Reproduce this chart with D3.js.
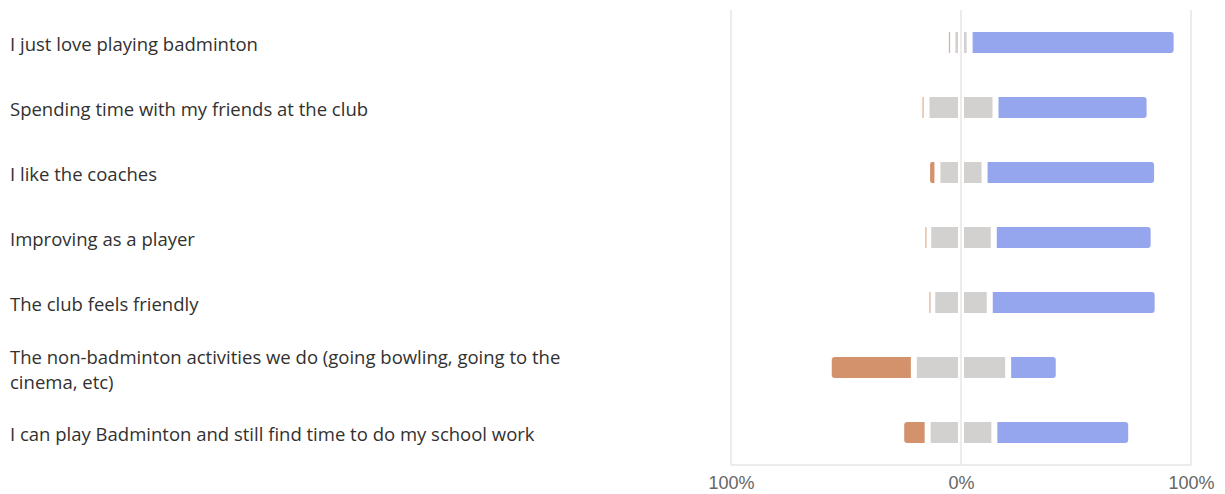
<!DOCTYPE html>
<html>
<head>
<meta charset="utf-8">
<script src="https://cdn.jsdelivr.net/npm/d3@7"></script>
<style>
  html, body { margin: 0; padding: 0; background: #fff; }
  svg { display: block; }
</style>
</head>
<body>
<svg id="chart" width="1225" height="494"></svg>
<script>
const categories = [
  "I just love playing badminton",
  "Spending time with my friends at the club",
  "I like the coaches",
  "Improving as a player",
  "The club feels friendly",
  "The non-badminton activities we do (going bowling, going to the cinema, etc)",
  "I can play Badminton and still find time to do my school work"
];
const disagree = [2.5, 3, 4.5, 2, 2, 37, 11.5];
const neutral  = [7.5, 30, 20.5, 28.5, 25, 41, 29];
const agree    = [90, 67, 75, 69.5, 73, 22, 59.5];
const tickValues = [-100, 0, 100];

const colors = { disagree: "#D3926B", neutral: "#D2D1CF", agree: "#96A6EE" };

const svg = d3.select("#chart");
const x = d3.scaleLinear().domain([-100, 100]).range([731, 1191]);
const y = d3.scaleBand().domain(categories).range([10, 465]).padding(0);
const barH = 21, inset = 3, r = 3;

// grid
const grid = svg.append("g");
grid.selectAll("line.v").data(tickValues).join("line")
  .attr("x1", d => x(d)).attr("x2", d => x(d))
  .attr("y1", y.range()[0]).attr("y2", y.range()[1])
  .attr("stroke", "#e6e6e6").attr("stroke-width", 1.5);
grid.append("line")
  .attr("x1", x(-100)).attr("x2", x(100))
  .attr("y1", y.range()[1]).attr("y2", y.range()[1])
  .attr("stroke", "#e6e6e6").attr("stroke-width", 1.5);

// segments
const rows = categories.map((c, i) => {
  const d = disagree[i], n = neutral[i], a = agree[i];
  return [
    { cat: c, key: "disagree", x0: -n / 2 - d, x1: -n / 2, round: "left" },
    { cat: c, key: "neutral", x0: -n / 2, x1: 0, round: "none" },
    { cat: c, key: "neutral", x0: 0, x1: n / 2, round: "none" },
    { cat: c, key: "agree", x0: n / 2, x1: n / 2 + a, round: "right" }
  ];
}).flat();

function segPath(s) {
  let a = x(s.x0) + inset, b = x(s.x1) - inset;
  if (b - a < 1) { const m = (x(s.x0) + x(s.x1)) / 2; a = m - 0.6; b = m + 0.6; }
  const t = y(s.cat) + y.bandwidth() / 2 - barH / 2, h = barH;
  const rr = Math.min(r, (b - a) / 2);
  const p = d3.path();
  if (s.round === "left") {
    p.moveTo(b, t); p.lineTo(a + rr, t); p.quadraticCurveTo(a, t, a, t + rr);
    p.lineTo(a, t + h - rr); p.quadraticCurveTo(a, t + h, a + rr, t + h);
    p.lineTo(b, t + h); p.closePath();
  } else if (s.round === "right") {
    p.moveTo(a, t); p.lineTo(b - rr, t); p.quadraticCurveTo(b, t, b, t + rr);
    p.lineTo(b, t + h - rr); p.quadraticCurveTo(b, t + h, b - rr, t + h);
    p.lineTo(a, t + h); p.closePath();
  } else {
    p.rect(a, t, b - a, h);
  }
  return p.toString();
}

svg.append("g").selectAll("path").data(rows).join("path")
  .attr("d", segPath)
  .attr("fill", d => colors[d.key])
  .attr("opacity", d => (x(d.x1) - x(d.x0) - 2 * inset < 1) ? 0.75 : 1);

// axis
const axis = svg.append("g").attr("transform", `translate(0,${y.range()[1]})`)
  .call(d3.axisBottom(x).tickValues(tickValues).tickSize(0).tickFormat(d => Math.abs(d) + "%"));
axis.select(".domain").remove();
axis.selectAll("text")
  .attr("y", 24).attr("dy", 0)
  .attr("fill", "#666")
  .style("font-family", "'Liberation Sans', Arial, sans-serif")
  .style("font-size", "18px");

// category labels
const lab = svg.append("g")
  .style("font-family", "'Open Sans', 'Noto Sans', sans-serif")
  .style("font-size", "18.5px")
  .attr("fill", "#323130");
const maxW = 600, lineH = 25;
categories.forEach(c => {
  const cy = y(c) + y.bandwidth() / 2;
  const t = lab.append("text").attr("x", 10);
  const words = c.split(" ");
  let lines = [], cur = [];
  const probe = lab.append("text").attr("x", -1000);
  words.forEach(w => {
    const test = cur.concat([w]).join(" ");
    probe.text(test);
    if (probe.node().getComputedTextLength() > maxW && cur.length) { lines.push(cur.join(" ")); cur = [w]; }
    else cur.push(w);
  });
  lines.push(cur.join(" "));
  probe.remove();
  const base = cy + 8.5 - (lines.length - 1) * lineH / 2;
  lines.forEach((l, i) => t.append("tspan").attr("x", 10).attr("y", base + i * lineH).text(l));
});
</script>
</body>
</html>
